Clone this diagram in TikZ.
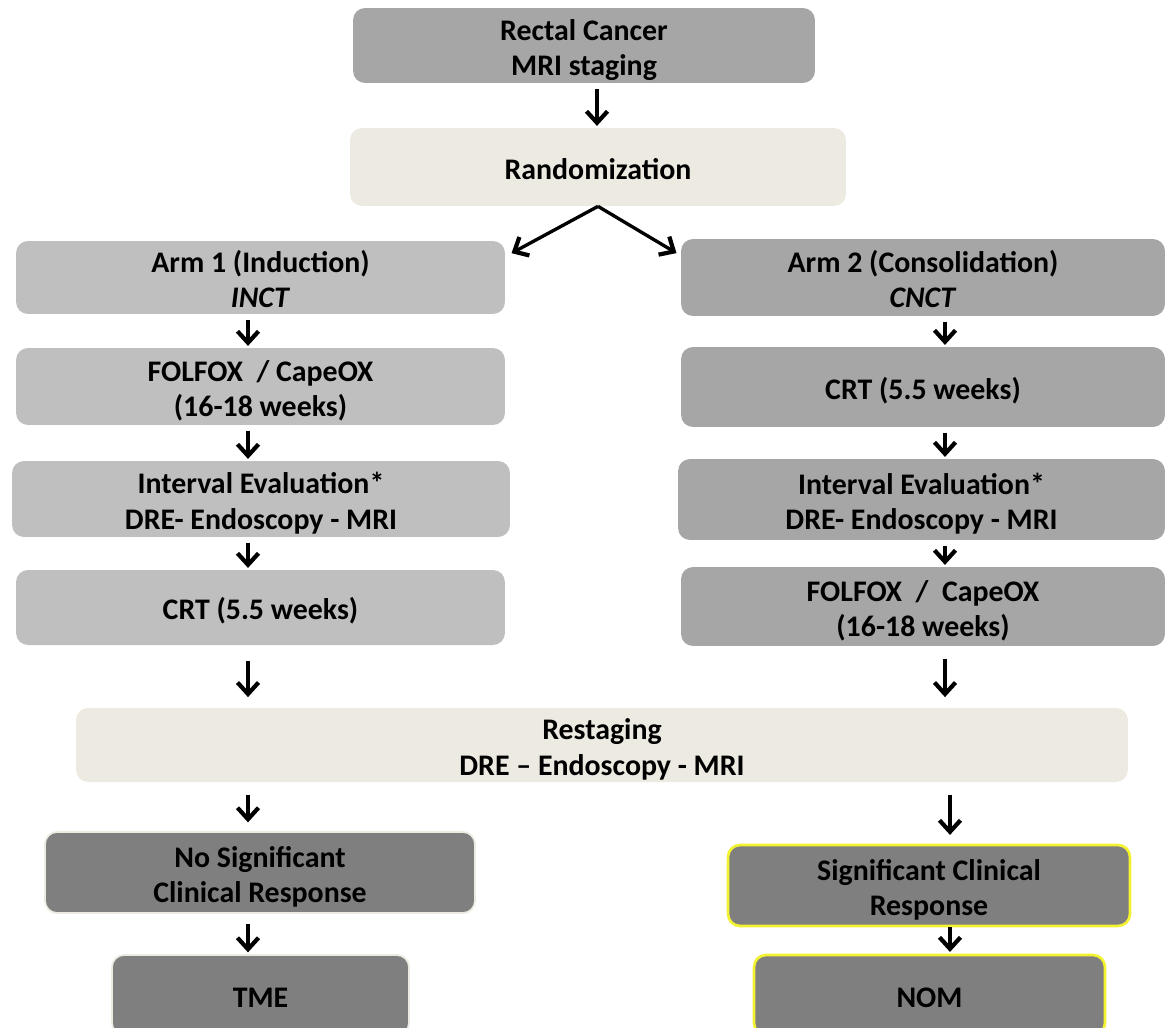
\documentclass[tikz,border=0pt]{standalone}
\usepackage{fontspec}
\setmainfont{Carlito}
\usetikzlibrary{positioning}
\usetikzlibrary{arrows.meta}
\definecolor{midgrey}{HTML}{A6A6A6}
\definecolor{lightgrey}{HTML}{BFBFBF}
\definecolor{darkgrey}{HTML}{7F7F7F}
\definecolor{beige}{HTML}{EDEAE2}
\definecolor{edgeyellow}{HTML}{F2F230}

\begin{document}
\begin{tikzpicture}[x=0.02cm,y=-0.02cm,
  every node/.style={rounded corners=0.24cm,align=center,inner sep=0pt,
    font=\fontsize{17}{20.2}\selectfont\bfseries,
    text height=14.2pt,text depth=0pt},
  twoline/.style={text height=34.4pt},
  lightbox/.style={fill=lightgrey,minimum width=9.78cm},
  midbox/.style={fill=midgrey,minimum width=9.68cm},
  beigebox/.style={fill=beige},
  darkbox/.style={fill=darkgrey,draw=beige,line width=1pt},
  yellowbox/.style={fill=darkgrey,draw=edgeyellow,line width=1.5pt},
  flow/.style={line width=1.9pt,-{Straight Barb[length=2.3mm,width=4.2mm,line width=2.4pt]},
    shorten <=3pt,shorten >=1pt}]
  \useasboundingbox (0,0) rectangle (1167,1028);

  \node[twoline,fill=midgrey,minimum width=9.24cm,minimum height=1.5cm] (cancer) at (584,45.5) {Rectal Cancer\\MRI staging};
  \node[beigebox,minimum width=9.92cm,minimum height=1.56cm] (random) at (598,167) {Randomization};

  \node[twoline,lightbox,minimum height=1.46cm] (arma) at (260.5,277.5) {Arm 1 (Induction)\\\textit{INCT}};
  \node[twoline,lightbox,minimum height=1.54cm] (folfoxa) at (260.5,386.5) {FOLFOX\ \ / CapeOX\\(16-18 weeks)};
  \node[twoline,lightbox,minimum width=9.96cm,minimum height=1.52cm] (evala) at (261,499) {Interval Evaluation*\\DRE- Endoscopy - MRI};
  \node[lightbox,minimum height=1.5cm] (crta) at (260.5,607.5) {CRT (5.5 weeks)};

  \node[twoline,midbox,minimum height=1.54cm] (armb) at (923,277.5) {Arm 2 (Consolidation)\\\textit{CNCT}};
  \node[midbox,minimum height=1.6cm] (crtb) at (923,387) {CRT (5.5 weeks)};
  \node[twoline,midbox,minimum width=9.74cm,minimum height=1.62cm] (evalb) at (921.5,499.5) {Interval Evaluation*\\DRE- Endoscopy - MRI};
  \node[twoline,midbox,minimum height=1.58cm] (folfoxb) at (923,606.5) {FOLFOX\ \ /\ \ CapeOX\\(16-18 weeks)};

  \node[twoline,beigebox,minimum width=21.04cm,minimum height=1.48cm] (restage) at (602,745) {Restaging\\DRE -- Endoscopy - MRI};

  \node[twoline,darkbox,minimum width=8.6cm,minimum height=1.62cm] (nosig) at (260,872.5) {No Significant\\Clinical Response};
  \node[darkbox,minimum width=5.94cm,minimum height=1.6cm] (tme) at (260.5,995) {TME};
  \node[twoline,yellowbox,minimum width=8.04cm,minimum height=1.62cm] (sig) at (929,885.5) {Significant Clinical\\Response};
  \node[yellowbox,minimum width=7.02cm,minimum height=1.6cm] (nom) at (929.5,995) {NOM};

  \coordinate (mid) at (597,0);
  \coordinate (colL) at (248,0);
  \coordinate (colR) at (945,0);
  \coordinate (colRb) at (950,0);
  \coordinate (tipL) at (510,254);
  \coordinate (tipR) at (678,254);

  \draw[flow] (cancer.south -| mid) -- (random.north -| mid);
  \draw[flow,shorten <=0pt] (random.south) -- (tipL);
  \draw[flow,shorten <=0pt] (random.south) -- (tipR);

  \draw[flow] (arma.south -| colL) -- (folfoxa.north -| colL);
  \draw[flow] (folfoxa.south -| colL) -- (evala.north -| colL);
  \draw[flow] (evala.south -| colL) -- (crta.north -| colL);
  \draw[flow,shorten <=9pt,shorten >=6pt] (crta.south -| colL) -- (restage.north -| colL);

  \draw[flow] (armb.south -| colR) -- (crtb.north -| colR);
  \draw[flow] (crtb.south -| colR) -- (evalb.north -| colR);
  \draw[flow] (evalb.south -| colR) -- (folfoxb.north -| colR);
  \draw[flow,shorten <=7pt,shorten >=6pt] (folfoxb.south -| colR) -- (restage.north -| colR);

  \draw[flow,shorten <=7pt,shorten >=5pt] (restage.south -| colL) -- (nosig.north -| colL);
  \draw[flow,shorten <=7pt,shorten >=5pt] (restage.south -| colRb) -- (sig.north -| colRb);
  \draw[flow,shorten <=6pt] (nosig.south -| colL) -- (tme.north -| colL);
  \draw[flow,shorten <=0pt] (sig.south -| colRb) -- (nom.north -| colRb);
\end{tikzpicture}
\end{document}
